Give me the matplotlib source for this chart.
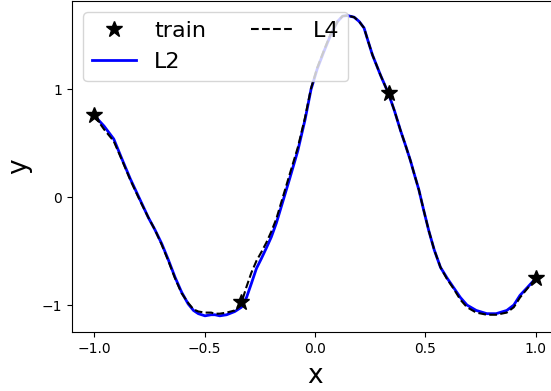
import matplotlib
matplotlib.use("Agg")
import matplotlib.pyplot as plt
import numpy as np

# punkty treningowe
x_train = [-1.0, -1/3, 1/3, 1.0]
y_train = [0.76, -0.97, 0.97, -0.75]

# krzywa L2
x_l2 = [-1.0, -0.955, -0.911, -0.875, -0.836, -0.795, -0.754, -0.725, -0.694, -0.664,
        -0.634, -0.604, -0.574, -0.550, -0.528, -0.498, -0.470, -0.453, -0.431, -0.400,
        -0.363, -0.333, -0.310, -0.288, -0.265, -0.243, -0.220, -0.198, -0.175, -0.153,
        -0.115, -0.078, -0.045, -0.018, 0.010, 0.042, 0.072, 0.102, 0.125, 0.147,
        0.177, 0.200, 0.222, 0.240, 0.260, 0.297, 0.333, 0.360, 0.387, 0.410,
        0.432, 0.450, 0.470, 0.492, 0.515, 0.540, 0.568, 0.598, 0.628, 0.658,
        0.688, 0.730, 0.778, 0.820, 0.868, 0.900, 0.928, 0.960, 1.0]
y_l2 = [0.76, 0.66, 0.54, 0.36, 0.17, -0.01, -0.19, -0.30, -0.43, -0.58,
        -0.74, -0.88, -0.99, -1.05, -1.08, -1.10, -1.09, -1.09, -1.10, -1.09,
        -1.06, -1.02, -0.93, -0.80, -0.66, -0.57, -0.47, -0.37, -0.24, -0.09,
        0.17, 0.43, 0.72, 1.00, 1.19, 1.36, 1.51, 1.63, 1.68, 1.685,
        1.67, 1.63, 1.57, 1.45, 1.32, 1.13, 0.96, 0.80, 0.62, 0.48,
        0.34, 0.21, 0.07, -0.12, -0.31, -0.49, -0.65, -0.75, -0.84, -0.93,
        -1.00, -1.05, -1.08, -1.08, -1.05, -1.00, -0.91, -0.84, -0.75]

# krzywa L4 (prawie taka sama, lekkie odchylenia)
x_l4 = x_l2
y_l4 = [0.76, 0.63, 0.52, 0.35, 0.16, -0.02, -0.19, -0.30, -0.44, -0.59,
        -0.75, -0.89, -0.98, -1.04, -1.06, -1.07, -1.07, -1.08, -1.08, -1.07,
        -1.05, -0.98, -0.83, -0.70, -0.59, -0.51, -0.42, -0.32, -0.20, -0.05,
        0.21, 0.46, 0.74, 1.01, 1.20, 1.37, 1.52, 1.63, 1.68, 1.685,
        1.67, 1.63, 1.57, 1.45, 1.32, 1.13, 0.96, 0.80, 0.62, 0.48,
        0.34, 0.21, 0.07, -0.12, -0.31, -0.49, -0.65, -0.76, -0.85, -0.95,
        -1.02, -1.07, -1.09, -1.09, -1.07, -1.02, -0.93, -0.85, -0.75]

fig = plt.figure(figsize=(5.51, 3.91), dpi=100)
ax = fig.add_axes([72/551, 1 - 332/391, 486/551, 331/391])

ax.plot(x_train, y_train, '*', color='black', markersize=12, label="train", zorder=4)
ax.plot(x_l2, y_l2, '-', color='blue', linewidth=2, label="L2", zorder=2)
ax.plot(x_l4, y_l4, '--', color='black', linewidth=1.5, label="L4", zorder=3)

ax.set_xlim(-1.1, 1.1)
ax.set_ylim(-1.25, 1.82)
ax.set_xticks([-1.0, -0.5, 0.0, 0.5, 1.0])
ax.set_yticks([-1, 0, 1])
ax.set_xlabel("x", fontsize=19, labelpad=5)
ax.set_ylabel("y", fontsize=19, labelpad=7)
ax.legend(loc="upper left", ncol=2, fontsize=16)

fig.savefig("out.png", dpi=100)
